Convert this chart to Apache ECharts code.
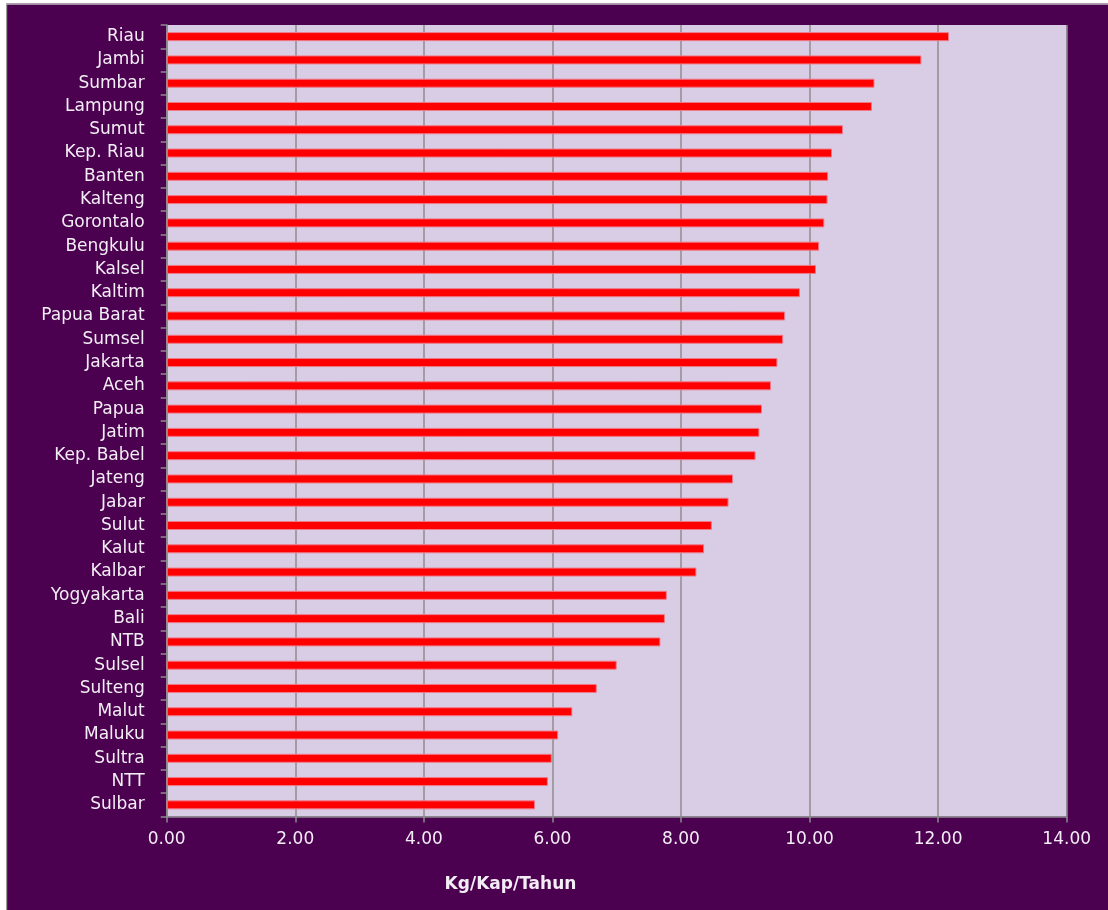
<!DOCTYPE html>
<html>
<head>
<meta charset="utf-8">
<style>
  html, body { margin: 0; padding: 0; background: #ffffff; }
  #chart { width: 1108px; height: 910px; }
</style>
<script src="https://cdn.jsdelivr.net/npm/echarts@6/dist/echarts.min.js"></script>
</head>
<body>
<div id="chart"></div>
<script>
// Provinces, ordered from highest to lowest consumption
const provinces = [
  'Riau', 'Jambi', 'Sumbar', 'Lampung', 'Sumut', 'Kep. Riau', 'Banten', 'Kalteng',
  'Gorontalo', 'Bengkulu', 'Kalsel', 'Kaltim', 'Papua Barat', 'Sumsel', 'Jakarta',
  'Aceh', 'Papua', 'Jatim', 'Kep. Babel', 'Jateng', 'Jabar', 'Sulut', 'Kalut',
  'Kalbar', 'Yogyakarta', 'Bali', 'NTB', 'Sulsel', 'Sulteng', 'Malut', 'Maluku',
  'Sultra', 'NTT', 'Sulbar'
];

// Consumption per capita per year (kg)
const consumption = [
  12.17, 11.74, 11.01, 10.97, 10.52, 10.35, 10.29, 10.28,
  10.23, 10.15, 10.10, 9.85, 9.62, 9.59, 9.50,
  9.40, 9.26, 9.22, 9.16, 8.81, 8.74, 8.48, 8.36,
  8.24, 7.78, 7.75, 7.68, 7.00, 6.69, 6.31, 6.09,
  5.99, 5.93, 5.73
];

// Value axis range and step
const xMin = 0;
const xMax = 14;
const xStep = 2;

const axisTitle = 'Kg/Kap/Tahun';

const chart = echarts.init(document.getElementById('chart'), null, { renderer: 'canvas' });

const fontFamily = '"DejaVu Sans", "Open Sans", sans-serif';
const textColor = '#f3eef5';
const lineGray = '#8c8c8c';

chart.setOption({
  backgroundColor: '#4b0050',
  animation: false,
  grid: {
    left: 166.7,
    right: 41.3,
    top: 25,
    bottom: 93.5,
    show: true,
    backgroundColor: '#d9cde5',
    borderWidth: 0
  },
  graphic: [
    // white margin strips and thin frame along the top-left edges
    { type: 'rect', shape: { x: 0, y: 0, width: 6, height: 910 }, style: { fill: '#ffffff' }, z: 100 },
    { type: 'rect', shape: { x: 0, y: 0, width: 1108, height: 3.5 }, style: { fill: '#ffffff' }, z: 100 },
    { type: 'rect', shape: { x: 6, y: 3.5, width: 1.2, height: 906.5 }, style: { fill: '#9a9a9a' }, z: 101 },
    { type: 'rect', shape: { x: 6, y: 3.5, width: 1102, height: 1.2 }, style: { fill: '#b8b8b8' }, z: 101 },
    {
      type: 'text',
      x: 510.5,
      y: 885,
      style: {
        text: axisTitle,
        fill: textColor,
        font: 'bold 17px ' + fontFamily,
        textAlign: 'center',
        textVerticalAlign: 'middle'
      }
    }
  ],
  xAxis: {
    type: 'value',
    min: xMin,
    max: xMax,
    interval: xStep,
    axisLine: { show: true, lineStyle: { color: lineGray, width: 1.5 } },
    axisTick: { show: true, length: 6, lineStyle: { color: lineGray, width: 1.5 } },
    axisLabel: {
      color: textColor,
      fontFamily: fontFamily,
      fontSize: 17,
      margin: 15,
      formatter: v => v.toFixed(2)
    },
    splitLine: { show: true, lineStyle: { color: lineGray, width: 1.5 } }
  },
  yAxis: {
    type: 'category',
    data: provinces,
    inverse: true,
    axisLine: { show: true, lineStyle: { color: lineGray, width: 1.5 } },
    axisTick: { show: true, length: 6, inside: false, interval: 0, lineStyle: { color: lineGray, width: 1.5 } },
    axisLabel: {
      color: textColor,
      fontFamily: fontFamily,
      fontSize: 17,
      margin: 22,
      interval: 0
    },
    splitLine: { show: false }
  },
  series: [{
    type: 'bar',
    data: consumption,
    barWidth: 9,
    itemStyle: {
      color: '#ff0000',
      borderColor: '#f07a8a',
      borderWidth: 1
    }
  }]
});
</script>
</body>
</html>
